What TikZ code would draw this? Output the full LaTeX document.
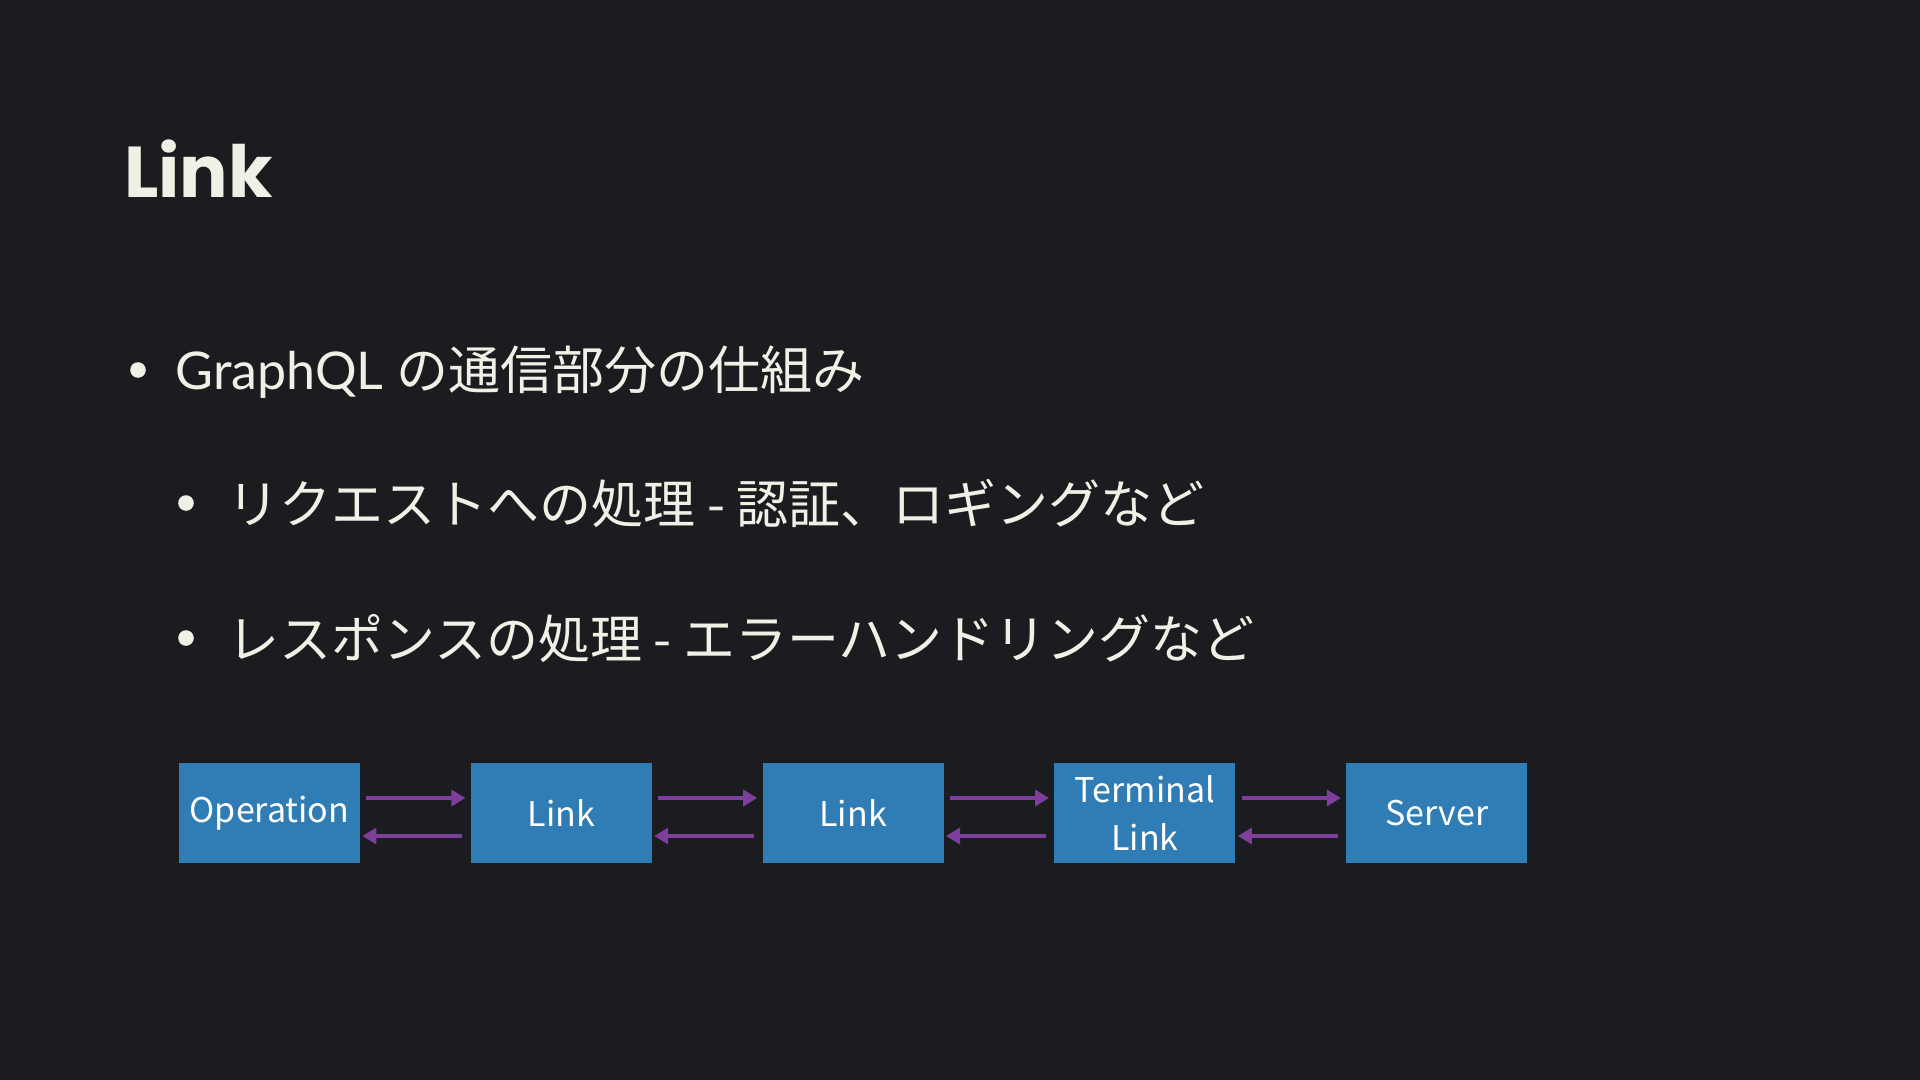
\documentclass[tikz,border=0pt]{standalone}
\usepackage{fontspec}
\usepackage{xcolor}
\usetikzlibrary{arrows.meta,positioning}
\setmainfont{Lato}
\newfontfamily\jpfont{Noto Sans CJK JP}
\newfontfamily\titlefont{Poppins}
\definecolor{SlideBg}{HTML}{1B1C1F}
\definecolor{SlideText}{HTML}{F1F0E6}
\definecolor{LinkBlue}{HTML}{2F7DB4}
\definecolor{FlowPurple}{HTML}{7D3F9B}

\begin{document}
\begin{tikzpicture}[
  x=0.5pt, y=-0.5pt,
  node distance=55pt,
  stage/.style={fill=LinkBlue, minimum width=90.5pt, minimum height=50pt, inner sep=1pt, align=center, text=white, font=\jpfont\fontsize{17}{24}\selectfont},
  bullet/.style={fill=SlideText, radius=3.9pt},
  item/.style={anchor=base west, inner sep=0pt, text=SlideText, font=\fontsize{26}{30}\selectfont},
  flow/.style={-{Triangle[length=7pt,width=8pt]}, line width=2pt, draw=FlowPurple}
]
  \fill[SlideBg] (0,0) rectangle (1920,1080);

  \node[anchor=base west, inner sep=0pt, text=SlideText, font=\titlefont\bfseries\fontsize{36}{40}\selectfont] (title) at (124,198) {Link};

  \fill[bullet] (138,370) circle;
  \node[item] (graphql) at (175,389) {GraphQL \jpfont の通信部分の仕組み};
  \fill[bullet] (186,503) circle;
  \node[item] (request) at (227,523) {\jpfont リクエストへの処理 - 認証、ロギングなど};
  \fill[bullet] (186,638) circle;
  \node[item] (response) at (227,658) {\jpfont レスポンスの処理 - エラーハンドリングなど};

  \node[stage] (operation) at (269.5,813) {Operation};
  \node[stage, right=of operation] (link1) {Link};
  \node[stage, right=of link1] (link2) {Link};
  \node[stage, right=of link2] (terminal) {Terminal\\Link};
  \node[stage, right=of terminal] (server) {Server};

  \foreach \a/\b in {operation/link1, link1/link2, link2/terminal, terminal/server} {
    \draw[flow] ([shift={(3pt,7.5pt)}]\a.east) -- ([shift={(-2.5pt,7.5pt)}]\b.west);
    \draw[flow] ([shift={(-4pt,-11.5pt)}]\b.west) -- ([shift={(1pt,-11.5pt)}]\a.east);
  }
\end{tikzpicture}
\end{document}
